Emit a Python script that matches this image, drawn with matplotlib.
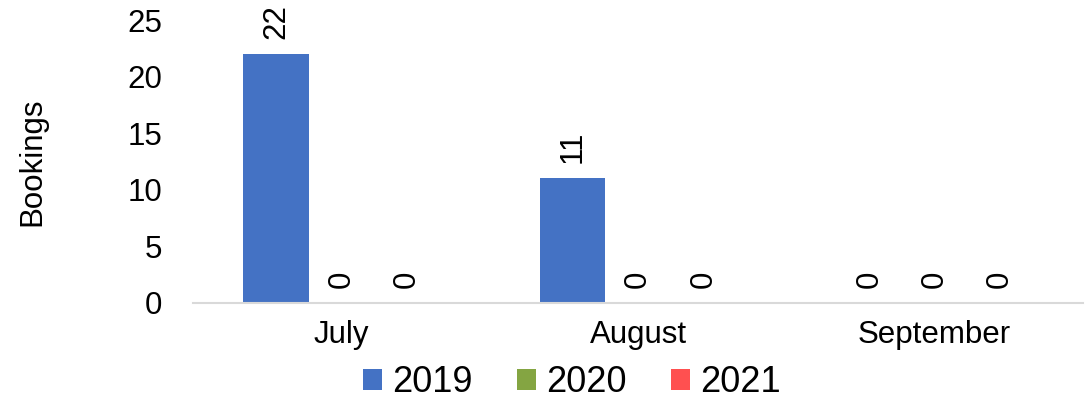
import matplotlib
matplotlib.use("Agg")
import matplotlib.pyplot as plt
import numpy as np

months = ["July", "August", "September"]
series_names = ["2019", "2020", "2021"]
values_2019 = [22, 11, 0]
values_2020 = [0, 0, 0]
values_2021 = [0, 0, 0]
colors = ["#4472C4", "#84A542", "#FF5050"]
yticks = [0, 5, 10, 15, 20, 25]

plt.rcParams['font.family'] = ['Liberation Sans', 'DejaVu Sans']

fig = plt.figure(figsize=(10.92, 4.01), dpi=100)
ax = fig.add_axes([193/1092, (401-303)/401, (1083-193)/1092, (303-20)/401])

x = np.arange(len(months))
width = 0.22
all_vals = [values_2019, values_2020, values_2021]
for i, (name, vals, c) in enumerate(zip(series_names, all_vals, colors)):
    bars = ax.bar(x + (i - 1) * width, vals, width, color=c, label=name, zorder=2)
    ax.bar_label(bars, labels=[str(v) for v in vals], rotation=90, padding=11,
                 fontsize=22.5, color='black')

ax.set_xlim(-0.5, 2.5)
ax.set_ylim(0, 25)
ax.set_yticks(yticks)
ax.set_xticks(x)
ax.set_xticklabels(months)
ax.tick_params(axis='y', length=0, pad=22, labelsize=22.5)
ax.tick_params(axis='x', length=0, pad=12, labelsize=22.5)
for s in ['top', 'right', 'left']:
    ax.spines[s].set_visible(False)
ax.spines['bottom'].set_color('#D9D9D9')
ax.spines['bottom'].set_linewidth(1.5)
ax.set_ylabel("Bookings", fontsize=22.5)
ax.yaxis.set_label_coords(-0.164, 0.5)

fig.legend(loc='center', bbox_to_anchor=(572/1092, 1 - 383/401), ncol=3,
           frameon=False, fontsize=26, handlelength=0.53, handleheight=0.53,
           handletextpad=0.28, columnspacing=1.22, borderaxespad=0)

fig.savefig("out.png", dpi=100)
